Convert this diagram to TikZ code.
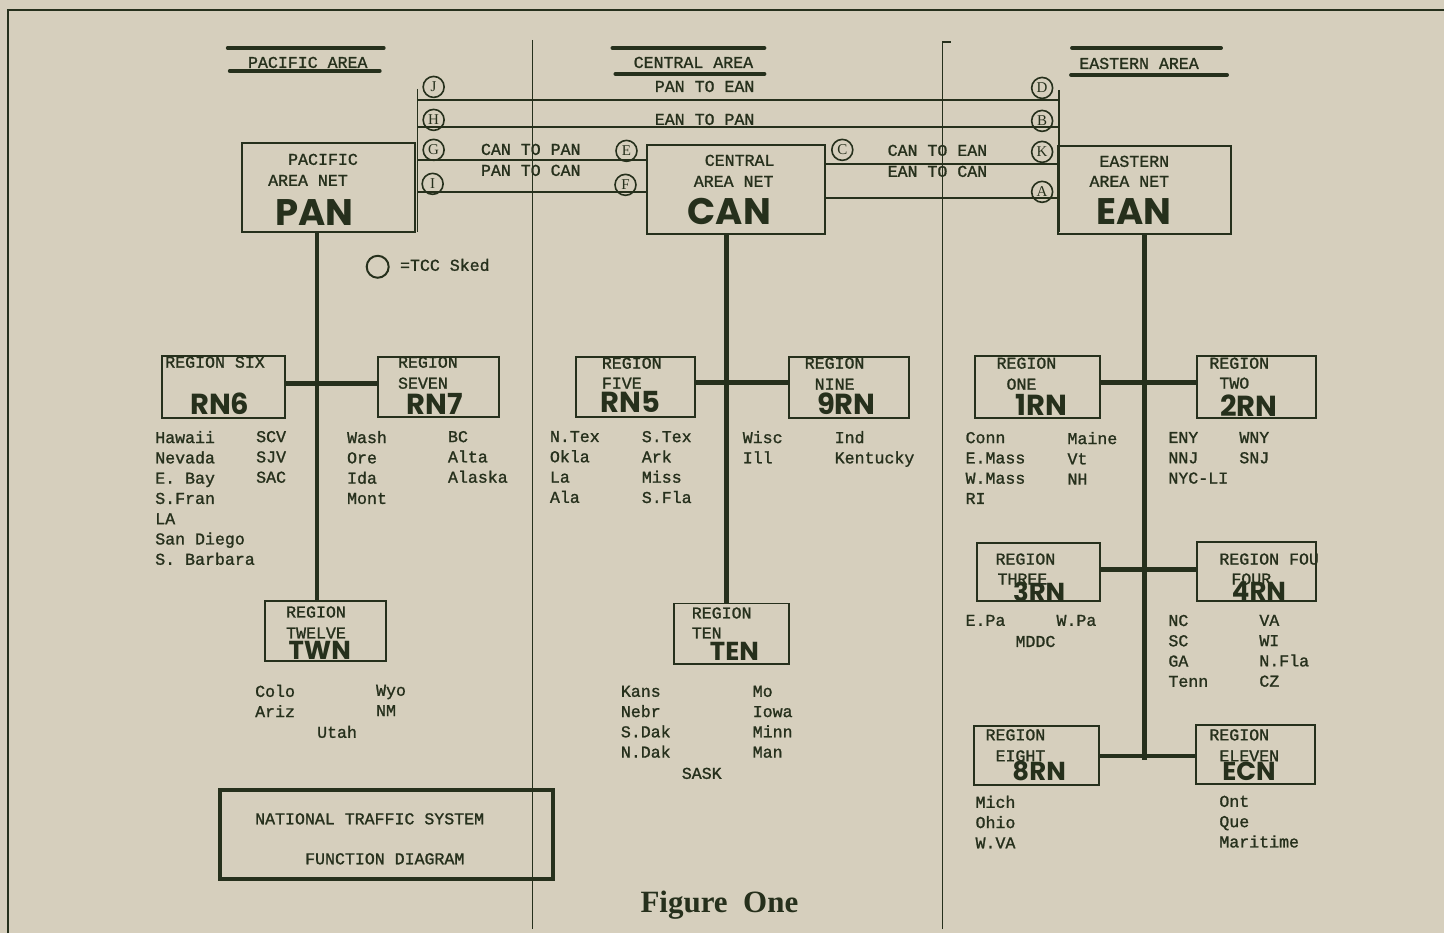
\documentclass[tikz,border=0pt]{standalone}
\usepackage{fontspec}
\setmainfont{Liberation Serif}
\setmonofont{Liberation Mono}[FakeBold=1.2]
\newfontfamily\hand{Poppins}
\definecolor{paper}{RGB}{214,207,189}
\definecolor{ink}{RGB}{38,48,28}
\tikzset{
  tx/.style={font=\ttfamily\fontsize{8.3}{10}\selectfont, text=ink, inner sep=0pt, text height=3.4pt, text depth=0pt, anchor=west, yshift=-0.8pt},
  lst/.style={font=\ttfamily\fontsize{8.3}{10.15}\selectfont, text=ink, inner sep=0pt, anchor=north west, align=left},
  hw/.style={font=\hand\bfseries\fontsize{14.5}{15}\selectfont, text=ink, inner sep=0pt},
  hws/.style={font=\hand\bfseries\fontsize{13}{13}\selectfont, text=ink, inner sep=0pt},
  hwbig/.style={font=\hand\bfseries\fontsize{18.5}{19}\selectfont, text=ink, inner sep=0pt},
  bx/.style={draw=ink, line width=1pt, inner sep=0pt},
  tcc/.style={draw=ink, line width=0.8pt, circle, minimum size=10.5pt, inner sep=0pt, font=\fontsize{7.5}{8}\selectfont, text=ink},
  net/.style={draw=ink, line width=0.8pt},
  trunk/.style={draw=ink, line width=2.2pt},
  thin/.style={draw=ink, line width=0.7pt},
  bar/.style={draw=ink, line width=2pt, line cap=round},
}
\begin{document}
\begin{tikzpicture}[x=0.5pt,y=-0.5pt]
\fill[paper] (0,0) rectangle (1445,934);
% frame
\draw[ink, line width=1.2pt] (8,934) -- (8,10) -- (1445,10);
% column dividers
\coordinate (d1t) at (533,40); \coordinate (d1b) at (533,930);
\coordinate (d2t) at (943,42); \coordinate (d2b) at (943,930);
\draw[thin] (d1t) -- (d1b);
\draw[thin] (d2b) -- (d2t) -- ++(9,0);
% headers
\node[tx, anchor=center] (hpac) at (308,63) {PACIFIC AREA};
\node[tx, anchor=center] (hcen) at (694,63) {CENTRAL AREA};
\node[tx, anchor=center] (heas) at (1140,64) {EASTERN AREA};
\draw[bar] (228,48) -- (384,48); \draw[bar] (230,71) -- (380,71);
\draw[bar] (613,48) -- (765,48); \draw[bar] (616,74) -- (765,74);
\draw[bar] (1073,48) -- (1222,48); \draw[bar] (1072,75) -- (1228,75);

% area nets
\node[bx, minimum width=86.5pt, minimum height=44.5pt] (pan) at (328.5,187.5) {};
\node[bx, minimum width=89pt, minimum height=44.5pt] (can) at (737,189.5) {};
\node[bx, minimum width=86.5pt, minimum height=44pt] (ean) at (1145.5,190) {};
\node[tx] (pan1) at (288,160) {PACIFIC};
\node[tx] (pan2) at (268,181) {AREA NET};
\node[hwbig] (pan3) at (315,213) {PAN};
\node[tx] (can1) at (705,161) {CENTRAL};
\node[tx] (can2) at (694,182) {AREA NET};
\node[hwbig] (can3) at (730,212) {CAN};
\node[tx] (ean1) at (1100,162) {EASTERN};
\node[tx] (ean2) at (1090,182) {AREA NET};
\node[hwbig] (ean3) at (1135,212) {EAN};

% interconnect network
\coordinate (lvt) at (418,89); \coordinate (lvb) at (418,232);
\coordinate (rvt) at (1060,90); \coordinate (rvb) at (1060,232);
\draw[net] (lvt) -- (lvb);
\draw[net] (rvt) -- (rvb);
\coordinate (l1) at (418,100); \coordinate (l2) at (418,127);
\coordinate (l3) at (418,160); \coordinate (l4) at (418,192);
\coordinate (r5) at (1060,164); \coordinate (r6) at (1060,198);
\draw[net] (l1) -- (l1 -| rvt);
\draw[net] (l2) -- (l2 -| rvt);
\draw[net] (l3) -- (l3 -| can.west);
\draw[net] (l4) -- (l4 -| can.west);
\draw[net] (r5 -| can.east) -- (r5);
\draw[net] (r6 -| can.east) -- (r6);
\node[tx] (t1) at (655,87) {PAN TO EAN};
\node[tx] (t2) at (655,120) {EAN TO PAN};
\node[tx] (t3) at (481,150) {CAN TO PAN};
\node[tx] (t4) at (481,171) {PAN TO CAN};
\node[tx] (t5) at (888,151) {CAN TO EAN};
\node[tx] (t6) at (888,172) {EAN TO CAN};
\node[tcc] (cJ) at (434,87) {J};
\node[tcc] (cH) at (434,120) {H};
\node[tcc] (cG) at (434,150) {G};
\node[tcc] (cI) at (433,184) {I};
\node[tcc] (cE) at (627,151) {E};
\node[tcc] (cF) at (626,185) {F};
\node[tcc] (cC) at (843,150) {C};
\node[tcc] (cD) at (1043,88) {D};
\node[tcc] (cB) at (1043,121) {B};
\node[tcc] (cK) at (1043,152) {K};
\node[tcc] (cA) at (1043,192) {A};
% legend
\node[tcc, minimum size=11pt, line width=1pt] (leg) at (378,267) {};
\node[tx] (legt) at (400,266) {=TCC Sked};

% region boxes
\node[bx, minimum width=61.5pt, minimum height=31pt] (rn6) at (223.5,387) {};
\node[bx, minimum width=60.5pt, minimum height=30pt] (rn7) at (438.5,387) {};
\node[bx, minimum width=60.5pt, minimum height=30.5pt] (twn) at (325.5,631.5) {};
\node[bx, minimum width=60pt, minimum height=30pt] (rn5) at (636,387) {};
\node[bx, minimum width=60pt, minimum height=30.5pt] (rn9) at (850,387.5) {};
\node[bx, minimum width=57.5pt, minimum height=30.5pt] (ten) at (732.5,634.5) {};
\node[bx, minimum width=62.5pt, minimum height=31pt] (rn1) at (1038.5,387) {};
\node[bx, minimum width=59.5pt, minimum height=31pt] (rn2) at (1257.5,387) {};
\node[bx, minimum width=61.5pt, minimum height=29pt] (rn3) at (1039.5,572) {};
\node[bx, minimum width=59.5pt, minimum height=29.5pt] (rn4) at (1257.5,571.5) {};
\node[bx, minimum width=62.5pt, minimum height=29.5pt] (rn8) at (1037.5,756.5) {};
\node[bx, minimum width=59.5pt, minimum height=29.5pt] (ecn) at (1256.5,755.5) {};

% trunks
\coordinate (pant) at (317,232);
\coordinate (cant) at (727,234);
\draw[trunk] (pant) -- (pant |- twn.north);
\draw[trunk] (cant) -- (cant |- ten.north);
\draw[trunk] (ean.south) -- ([yshift=-2pt]ean.south |- rn8.east);
\draw[trunk] ([yshift=1.5pt]rn6.east) -- ([yshift=1.5pt]rn6.east -| rn7.west);
\draw[trunk] ([yshift=2pt]rn5.east) -- ([yshift=2pt]rn5.east -| rn9.west);
\draw[trunk] ([yshift=2pt]rn1.east) -- ([yshift=2pt]rn1.east -| rn2.west);
\draw[trunk] ([yshift=1pt]rn3.east) -- ([yshift=1pt]rn3.east -| rn4.west);
\draw[trunk] (rn8.east) -- (rn8.east -| ecn.west);

% region labels
\node[tx] (rn6a) at (165,363) {REGION SIX};
\node[hw] (rn6h) at (220,404) {RN6};
\node[tx] (rn7a) at (398,363) {REGION};
\node[tx] (rn7b) at (398,384) {SEVEN};
\node[hw] (rn7h) at (435,404) {RN7};
\node[tx] (twna) at (286,613) {REGION};
\node[tx] (twnb) at (286,634) {TWELVE};
\node[hws] (twnh) at (320,651) {TWN};
\node[tx] (rn5a) at (602,364) {REGION};
\node[tx] (rn5b) at (602,384) {FIVE};
\node[hw] (rn5h) at (631,402) {RN5};
\node[tx] (rn9a) at (805,364) {REGION};
\node[tx] (rn9b) at (815,385) {NINE};
\node[hw] (rn9h) at (847,404) {9RN};
\node[tx] (tena) at (692,614) {REGION};
\node[tx] (tenb) at (692,634) {TEN};
\node[hws] (tenh) at (735,652) {TEN};
\node[tx] (rn1a) at (997,364) {REGION};
\node[tx] (rn1b) at (1007,385) {ONE};
\node[hw] (rn1h) at (1042,405) {1RN};
\node[tx] (rn2a) at (1210,364) {REGION};
\node[tx] (rn2b) at (1220,384) {TWO};
\node[hw] (rn2h) at (1250,406) {2RN};
\node[tx] (rn3a) at (996,560) {REGION};
\node[tx] (rn3b) at (998,580) {THREE};
\node[hws] (rn3h) at (1040,592) {3RN};
\node[tx] (rn4a) at (1220,560) {REGION FOU};
\node[tx] (rn4b) at (1232,580) {FOUR};
\node[hws] (rn4h) at (1260,592) {4RN};
\node[tx] (rn8a) at (986,736) {REGION};
\node[tx] (rn8b) at (996,757) {EIGHT};
\node[hws] (rn8h) at (1040,772) {8RN};
\node[tx] (ecna) at (1210,736) {REGION};
\node[tx] (ecnb) at (1220,757) {ELEVEN};
\node[hws] (ecnh) at (1250,772) {ECN};

% lists
\node[lst] (l6a) at (155,431) {Hawaii\\Nevada\\E. Bay\\S.Fran\\LA\\San Diego\\S. Barbara};
\node[lst] (l6b) at (256,431) {SCV\\SJV\\SAC};
\node[lst] (l7a) at (347,431) {Wash\\Ore\\Ida\\Mont};
\node[lst] (l7b) at (448,431) {BC\\Alta\\Alaska};
\node[lst] (l5a) at (550,431) {N.Tex\\Okla\\La\\Ala};
\node[lst] (l5b) at (642,431) {S.Tex\\Ark\\Miss\\S.Fla};
\node[lst] (l9a) at (743,431) {Wisc\\Ill};
\node[lst] (l9b) at (835,431) {Ind\\Kentucky};
\node[lst] (l1a) at (966,432) {Conn\\E.Mass\\W.Mass\\RI};
\node[lst] (l1b) at (1068,432) {Maine\\Vt\\NH};
\node[lst] (l2a) at (1169,432) {ENY\\NNJ\\NYC-LI};
\node[lst] (l2b) at (1240,432) {WNY\\SNJ};
\node[lst] (l3a) at (966,615) {E.Pa};
\node[lst] (l3b) at (1057,615) {W.Pa};
\node[lst] (l3c) at (1016,636) {MDDC};
\node[lst] (l4a) at (1169,615) {NC\\SC\\GA\\Tenn};
\node[lst] (l4b) at (1260,615) {VA\\WI\\N.Fla\\CZ};
\node[lst] (l8a) at (976,796) {Mich\\Ohio\\W.VA};
\node[lst] (lea) at (1220,796) {Ont\\Que\\Maritime};
\node[lst] (lta) at (255,685) {Colo\\Ariz};
\node[lst] (ltb) at (376,685) {Wyo\\NM};
\node[lst] (ltc) at (317,726) {Utah};
\node[lst] (lna) at (621,686) {Kans\\Nebr\\S.Dak\\N.Dak};
\node[lst] (lnb) at (753,686) {Mo\\Iowa\\Minn\\Man};
\node[lst] (lnc) at (682,768) {SASK};

% title box
\node[draw=ink, line width=2pt, inner sep=0pt, minimum width=166.5pt, minimum height=44.5pt] (nts) at (386.5,835.5) {};
\node[tx] (nts1) at (255,820) {NATIONAL TRAFFIC SYSTEM};
\node[tx] (nts2) at (305,860) {FUNCTION DIAGRAM};
\node[font=\bfseries\fontsize{15.5}{18}\selectfont, text=ink, inner sep=0pt] (fig) at (720,906) {Figure\ \ One};
\end{tikzpicture}
\end{document}
